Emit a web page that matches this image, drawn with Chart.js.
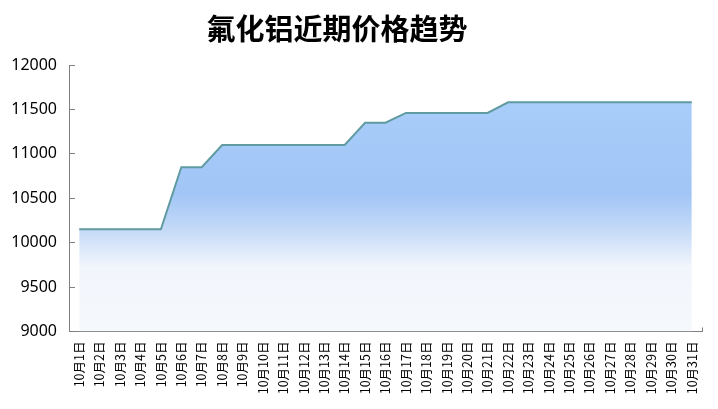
<!DOCTYPE html>
<html>
<head>
<meta charset="utf-8">
<script src="https://cdn.jsdelivr.net/npm/chart.js@4"></script>
<style>
  html, body { margin: 0; padding: 0; background: #ffffff; }
  #wrap { width: 718px; height: 409px; position: relative; }
</style>
</head>
<body>
<div id="wrap"><canvas id="c" width="718" height="409"></canvas></div>
<script>
const titleText = '氟化铝近期价格趋势';
const categories = [
  '10月1日','10月2日','10月3日','10月4日','10月5日','10月6日','10月7日','10月8日',
  '10月9日','10月10日','10月11日','10月12日','10月13日','10月14日','10月15日','10月16日',
  '10月17日','10月18日','10月19日','10月20日','10月21日','10月22日','10月23日','10月24日',
  '10月25日','10月26日','10月27日','10月28日','10月29日','10月30日','10月31日'
];
const prices = [
  10150, 10150, 10150, 10150, 10150, 10850, 10850, 11100,
  11100, 11100, 11100, 11100, 11100, 11100, 11350, 11350,
  11460, 11460, 11460, 11460, 11460, 11580, 11580, 11580,
  11580, 11580, 11580, 11580, 11580, 11580, 11580
];
const yMin = 9000;
const yMax = 12000;
const yStep = 500;

const titlePlugin = {
  id: 'customTitle',
  afterDraw(chart) {
    const ctx = chart.ctx;
    ctx.save();
    ctx.font = 'bold 29px "Noto Sans CJK SC", sans-serif';
    ctx.fillStyle = '#000000';
    ctx.textAlign = 'center';
    ctx.textBaseline = 'middle';
    ctx.fillText(titleText, 337, 29);
    ctx.restore();
  }
};

function areaFill(context) {
  const chart = context.chart;
  const area = chart.chartArea;
  if (!area) return 'rgba(168,204,250,0.8)';
  const yScale = chart.scales.y;
  const top = yScale.getPixelForValue(Math.max(...prices));
  const bottom = area.bottom;
  const g = chart.ctx.createLinearGradient(0, top, 0, bottom);
  g.addColorStop(0, '#a9cdfa');
  g.addColorStop(0.4, '#a1c5f5');
  g.addColorStop(0.55, '#c3d9f7');
  g.addColorStop(0.72, '#f2f6fc');
  g.addColorStop(1, '#f5f8fc');
  return g;
}

new Chart(document.getElementById('c'), {
  type: 'line',
  data: {
    labels: categories,
    datasets: [{
      data: prices,
      borderColor: '#5f9ba0',
      borderWidth: 2,
      backgroundColor: areaFill,
      fill: 'start',
      tension: 0,
      pointRadius: 0,
      pointHoverRadius: 0
    }]
  },
  options: {
    responsive: false,
    animation: false,
    devicePixelRatio: 1,
    layout: { padding: { top: 65, right: 16, bottom: 0, left: 0 } },
    plugins: {
      legend: { display: false },
      title: { display: false },
      tooltip: { enabled: false }
    },
    scales: {
      x: {
        type: 'category',
        offset: true,
        afterFit(s) { s.height = 77.5; s.paddingLeft = 0; s.paddingRight = 0; },
        border: { display: true, color: '#808080', width: 1 },
        grid: { display: true, offset: true, drawOnChartArea: false, drawTicks: true, tickLength: -4, color: '#808080' },
        ticks: {
          autoSkip: false,
          minRotation: 90,
          maxRotation: 90,
          padding: 14,
          color: '#000000',
          font: { family: '"Noto Sans CJK SC", sans-serif', size: 12.5 }
        }
      },
      y: {
        min: yMin,
        max: yMax,
        afterFit(s) { s.width = 69; },
        border: { display: true, color: '#808080', width: 1 },
        grid: { display: true, drawOnChartArea: false, drawTicks: true, tickLength: -6, color: '#808080' },
        ticks: {
          stepSize: yStep,
          padding: 18,
          color: '#000000',
          font: { family: '"Noto Sans", sans-serif', size: 16 },
          callback: (v) => String(v)
        }
      }
    }
  },
  plugins: [titlePlugin]
});
</script>
</body>
</html>
